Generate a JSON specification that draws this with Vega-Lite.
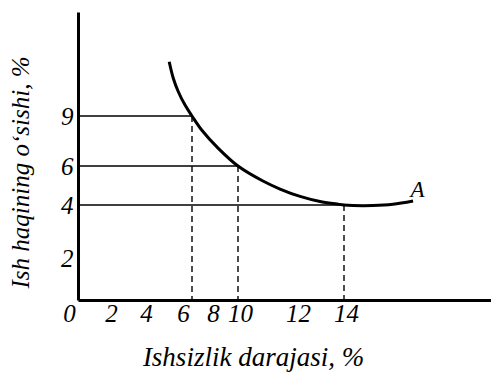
{
  "$schema": "https://vega.github.io/schema/vega-lite/v6.json",
  "autosize": "none",
  "padding": {"left": 78, "top": 12, "right": 0, "bottom": 73},
  "width": 413,
  "height": 288,
  "background": "white",
  "config": {
    "view": {"stroke": null},
    "font": "Liberation Serif"
  },
  "datasets": {
    "curve": [
      {"u": 5.05, "w": 12.13},
      {"u": 5.22, "w": 11.18},
      {"u": 5.43, "w": 10.4},
      {"u": 5.71, "w": 9.63},
      {"u": 6, "w": 9},
      {"u": 7.02, "w": 8.16},
      {"u": 8.54, "w": 7.06},
      {"u": 10, "w": 6},
      {"u": 10.86, "w": 5.23},
      {"u": 11.45, "w": 4.82},
      {"u": 12.17, "w": 4.44},
      {"u": 13.0, "w": 4.18},
      {"u": 13.71, "w": 4.05},
      {"u": 14, "w": 4},
      {"u": 14.24, "w": 3.98},
      {"u": 14.79, "w": 3.98},
      {"u": 15.33, "w": 4.04},
      {"u": 15.88, "w": 4.21}
    ],
    "points": [
      {"u": 6, "w": 9},
      {"u": 10, "w": 6},
      {"u": 14, "w": 4}
    ],
    "labels": [
      {"u": 16.0, "w": 4.77, "t": "A"}
    ]
  },
  "layer": [
    {
      "data": {"name": "points"},
      "mark": {"type": "rule", "color": "black", "strokeWidth": 1.4},
      "encoding": {
        "x": {"field": "u", "type": "quantitative",
          "scale": {"domain": [0, 2, 4, 6, 8, 10, 12, 14, 18], "range": [0, 31, 66, 114, 133, 160, 218, 266, 413], "nice": false, "zero": false},
          "axis": {
            "title": "Ishsizlik darajasi, %",
            "values": [0, 2, 4, 6, 8, 10, 12, 14],
            "grid": false, "ticks": false, "tickSize": 0,
            "domainColor": "black", "domainWidth": 3,
            "labelFont": "Liberation Serif", "labelFontStyle": "italic", "labelFontSize": 25, "labelColor": "black",
            "labelFlush": false, "labelOverlap": false,
            "labelPadding": 1, "labelBaseline": "top",
            "labelOffset": {"condition": {"test": "datum.value == 0 || datum.value == 6", "value": -9}, "value": 2},
            "titleFont": "Liberation Serif", "titleFontStyle": "italic", "titleFontWeight": "normal", "titleFontSize": 27, "titleColor": "black",
            "titleX": 175, "titleY": 65, "titleAlign": "center", "titleBaseline": "alphabetic"
          }
        },
        "x2": {"datum": 0},
        "y": {"field": "w", "type": "quantitative",
          "scale": {"domain": [0, 2, 4, 6, 9, 15], "range": [288, 246, 193, 154, 104, 0], "nice": false, "zero": false},
          "axis": {
            "title": "Ish haqining o‘sishi, %",
            "values": [2, 4, 6, 9],
            "grid": false, "ticks": false, "tickSize": 0,
            "domainColor": "black", "domainWidth": 3,
            "labelFont": "Liberation Serif", "labelFontStyle": "italic", "labelFontSize": 25, "labelColor": "black",
            "labelPadding": 5, "labelFlush": false, "labelOverlap": false,
            "titleFont": "Liberation Serif", "titleFontStyle": "italic", "titleFontWeight": "normal", "titleFontSize": 25, "titleColor": "black",
            "titleX": -58, "titleY": 160, "titleAngle": -90, "titleAlign": "center", "titleBaseline": "middle"
          }
        }
      }
    },
    {
      "data": {"name": "points"},
      "mark": {"type": "rule", "color": "black", "strokeWidth": 1.4, "strokeDash": [6, 4]},
      "encoding": {
        "x": {"field": "u", "type": "quantitative"},
        "y": {"field": "w", "type": "quantitative"},
        "y2": {"datum": 0}
      }
    },
    {
      "data": {"name": "curve"},
      "mark": {"type": "line", "color": "black", "strokeWidth": 3, "interpolate": "catmull-rom"},
      "encoding": {
        "x": {"field": "u", "type": "quantitative"},
        "y": {"field": "w", "type": "quantitative"}
      }
    },
    {
      "data": {"name": "labels"},
      "mark": {"type": "text", "font": "Liberation Serif", "fontStyle": "italic", "fontSize": 23, "color": "black", "align": "center", "baseline": "middle"},
      "encoding": {
        "x": {"field": "u", "type": "quantitative"},
        "y": {"field": "w", "type": "quantitative"},
        "text": {"field": "t"}
      }
    }
  ]
}
